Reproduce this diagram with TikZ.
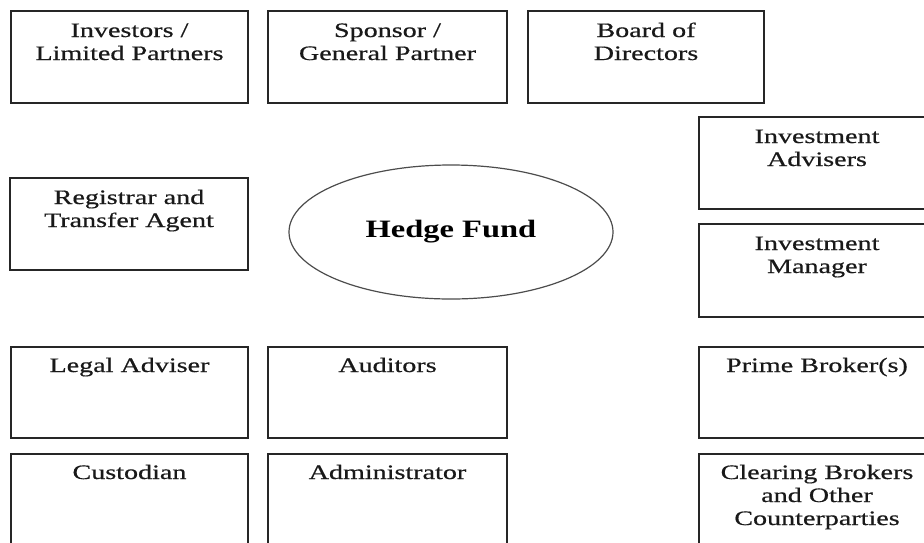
\documentclass[tikz,border=0pt]{standalone}
\usepackage{fontspec}
\setmainfont{Liberation Serif}[FakeStretch=1.37,FakeBold=0.6]
\newfontfamily\hffont{Liberation Serif}[FakeStretch=1.3]
\usetikzlibrary{shapes.geometric}
\begin{document}
\begin{tikzpicture}[x=1pt,y=-1pt,
  box/.style={draw=black!85, line width=1.7pt, rectangle, minimum width=237pt, minimum height=92pt, anchor=north west, inner sep=0pt, outer sep=0pt},
  lbl/.style={anchor=base, align=center, font=\fontsize{20.5}{23}\selectfont, inner sep=0pt, text=black!90},
  fund/.style={draw=black!70, line width=1.2pt, ellipse, minimum width=324pt, minimum height=134pt, inner sep=0pt}]
\useasboundingbox (0,0) rectangle (924,542);
\clip (0,0) rectangle (924,542);
% top row
\node[box] (inv) at (11,11) {};
\node[box, minimum width=239pt] (spo) at (268,11) {};
\node[box, minimum width=236pt] (brd) at (528,11) {};
% right column
\node[box, minimum width=236pt] (adv) at (699,117) {};
\node[box, minimum width=236pt, minimum height=93pt] (mgr) at (699,224) {};
% middle left
\node[box, minimum width=238pt] (reg) at (10,178) {};
% lower rows
\node[box, minimum height=91pt] (leg) at (11,347) {};
\node[box, minimum width=239pt, minimum height=91pt] (aud) at (268,347) {};
\node[box, minimum width=236pt, minimum height=91pt] (pb) at (699,347) {};
\node[box] (cus) at (11,454) {};
\node[box, minimum width=239pt] (adm) at (268,454) {};
\node[box, minimum width=236pt] (clr) at (699,454) {};
% hedge fund
\node[fund] (hf) at (451,232) {};
% labels (base anchor = baseline of the last line)
\node[lbl] (tinv) at ([yshift=-49pt]inv.north) {Investors /\\Limited Partners};
\node[lbl] (tspo) at ([yshift=-49pt]spo.north) {Sponsor /\\General Partner};
\node[lbl] (tbrd) at ([yshift=-49pt]brd.north) {Board of\\Directors};
\node[lbl] (tadv) at ([yshift=-49pt]adv.north) {Investment\\Advisers};
\node[lbl] (tmgr) at ([yshift=-49pt]mgr.north) {Investment\\Manager};
\node[lbl] (treg) at ([yshift=-49pt]reg.north) {Registrar and\\Transfer Agent};
\node[lbl] (tleg) at ([yshift=-25pt]leg.north) {Legal Adviser};
\node[lbl] (taud) at ([yshift=-25pt]aud.north) {Auditors};
\node[lbl] (tpb) at ([yshift=-25pt]pb.north) {Prime Broker(s)};
\node[lbl] (tcus) at ([yshift=-25pt]cus.north) {Custodian};
\node[lbl] (tadm) at ([yshift=-25pt]adm.north) {Administrator};
\node[lbl] (tclr) at ([yshift=-71pt]clr.north) {Clearing Brokers\\and Other\\Counterparties};
\node[anchor=base, inner sep=0pt, font=\hffont\bfseries\fontsize{25}{28}\selectfont] (thf) at ([yshift=-5pt]hf.center) {Hedge Fund};
\end{tikzpicture}
\end{document}
